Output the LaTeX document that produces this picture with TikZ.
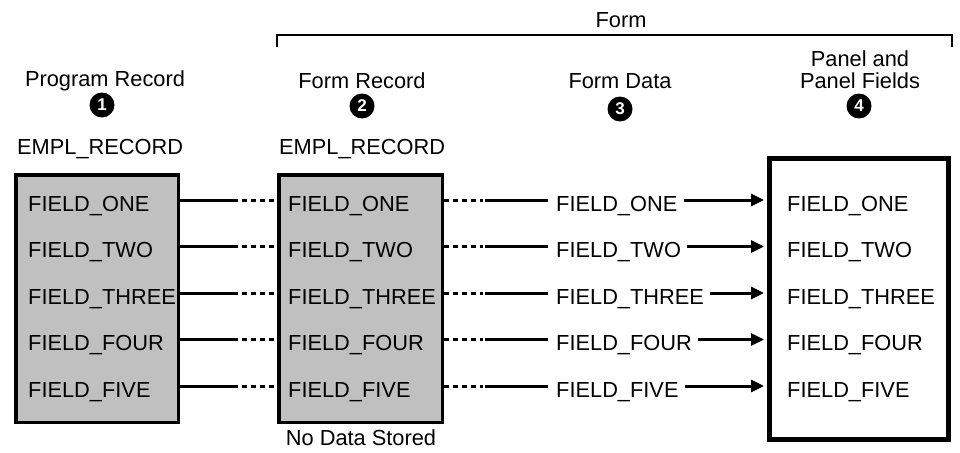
\documentclass[tikz,border=0pt]{standalone}
\usepackage{fontspec}
\setmainfont{Liberation Sans}
\usetikzlibrary{arrows.meta}
\definecolor{boxgray}{RGB}{192,192,192}
\begin{document}
\begin{tikzpicture}[x=1pt,y=-1pt,
  lbl/.style={font=\fontsize{21.8}{22}\selectfont, inner sep=0pt},
  fld/.style={lbl, anchor=west},
  graybox/.style={draw=black, line width=3.5pt, fill=boxgray},
  panelbox/.style={draw=black, line width=5pt, fill=white},
  numcirc/.style={circle, fill=black, text=white, inner sep=0pt, minimum size=25pt,
    font=\fontsize{17}{17}\selectfont\bfseries},
  conn/.style={line width=3pt},
  dconn/.style={line width=3pt, dash pattern=on 5pt off 4pt},
  arr/.style={line width=3pt, -{Triangle[length=13pt,width=12pt]}},
]
\useasboundingbox (0,0) rectangle (960,452);

% bracket
\coordinate (bl) at (277,47);
\coordinate (br) at (952,47);
\draw[line width=2.5pt] (bl) -- (bl |- 0,35) -- (br |- 0,35) -- (br);
\node[lbl] (form) at (621,20) {Form};

% headers
\node[lbl] (h1) at (105,81) {Program Record};
\node[lbl] (h2) at (362,81) {Form Record};
\node[lbl] (h3) at (620,81) {Form Data};
\node[lbl, align=center] (h4) at (860,70) {Panel and\\Panel Fields};
\node[numcirc] (n1) at (102,105) {1};
\node[numcirc] (n2) at (362,106) {2};
\node[numcirc] (n3) at (620,109) {3};
\node[numcirc] (n4) at (859,106) {4};

\node[fld] (e1) at (17,149) {EMPL\_RECORD};
\node[fld] (e2) at (279,149) {EMPL\_RECORD};

% boxes
\node[graybox, minimum width=162.5pt, minimum height=247.5pt] (lbox) at (97,298.5) {};
\node[graybox, minimum width=163.5pt, minimum height=247.5pt] (mbox) at (360.5,298.5) {};
\node[panelbox, minimum width=179pt, minimum height=281pt] (rbox) at (859,299) {};

\node[lbl] (nds) at (361,438) {No Data Stored};

\foreach \i/\t in {1/ONE,2/TWO,3/THREE,4/FOUR,5/FIVE}{
  \pgfmathsetmacro{\yy}{200+46.5*(\i-1)}
  \coordinate (y\i) at (0,\yy);
  \node[fld] (l\i) at (28,\yy+6) {FIELD\_\t};
  \node[fld] (m\i) at (288,\yy+6) {FIELD\_\t};
  \node[fld] (f\i) at (556,\yy+6) {FIELD\_\t};
  \node[fld] (p\i) at (787,\yy+6) {FIELD\_\t};
  \coordinate (d\i) at (238,\yy);
  \coordinate (g\i) at (483,\yy);
  \draw[conn] (lbox.east |- y\i) -- (d\i);
  \draw[dconn, dash phase=5pt] (d\i) -- (mbox.west |- y\i);
  \draw[dconn] (mbox.east |- y\i) -- (g\i);
  \draw[conn, shorten <=2pt, shorten >=8pt] (g\i) -- (f\i.west |- y\i);
  \draw[arr, shorten <=6pt, shorten >=3pt] (f\i.east |- y\i) -- (rbox.west |- y\i);
}
\end{tikzpicture}
\end{document}
